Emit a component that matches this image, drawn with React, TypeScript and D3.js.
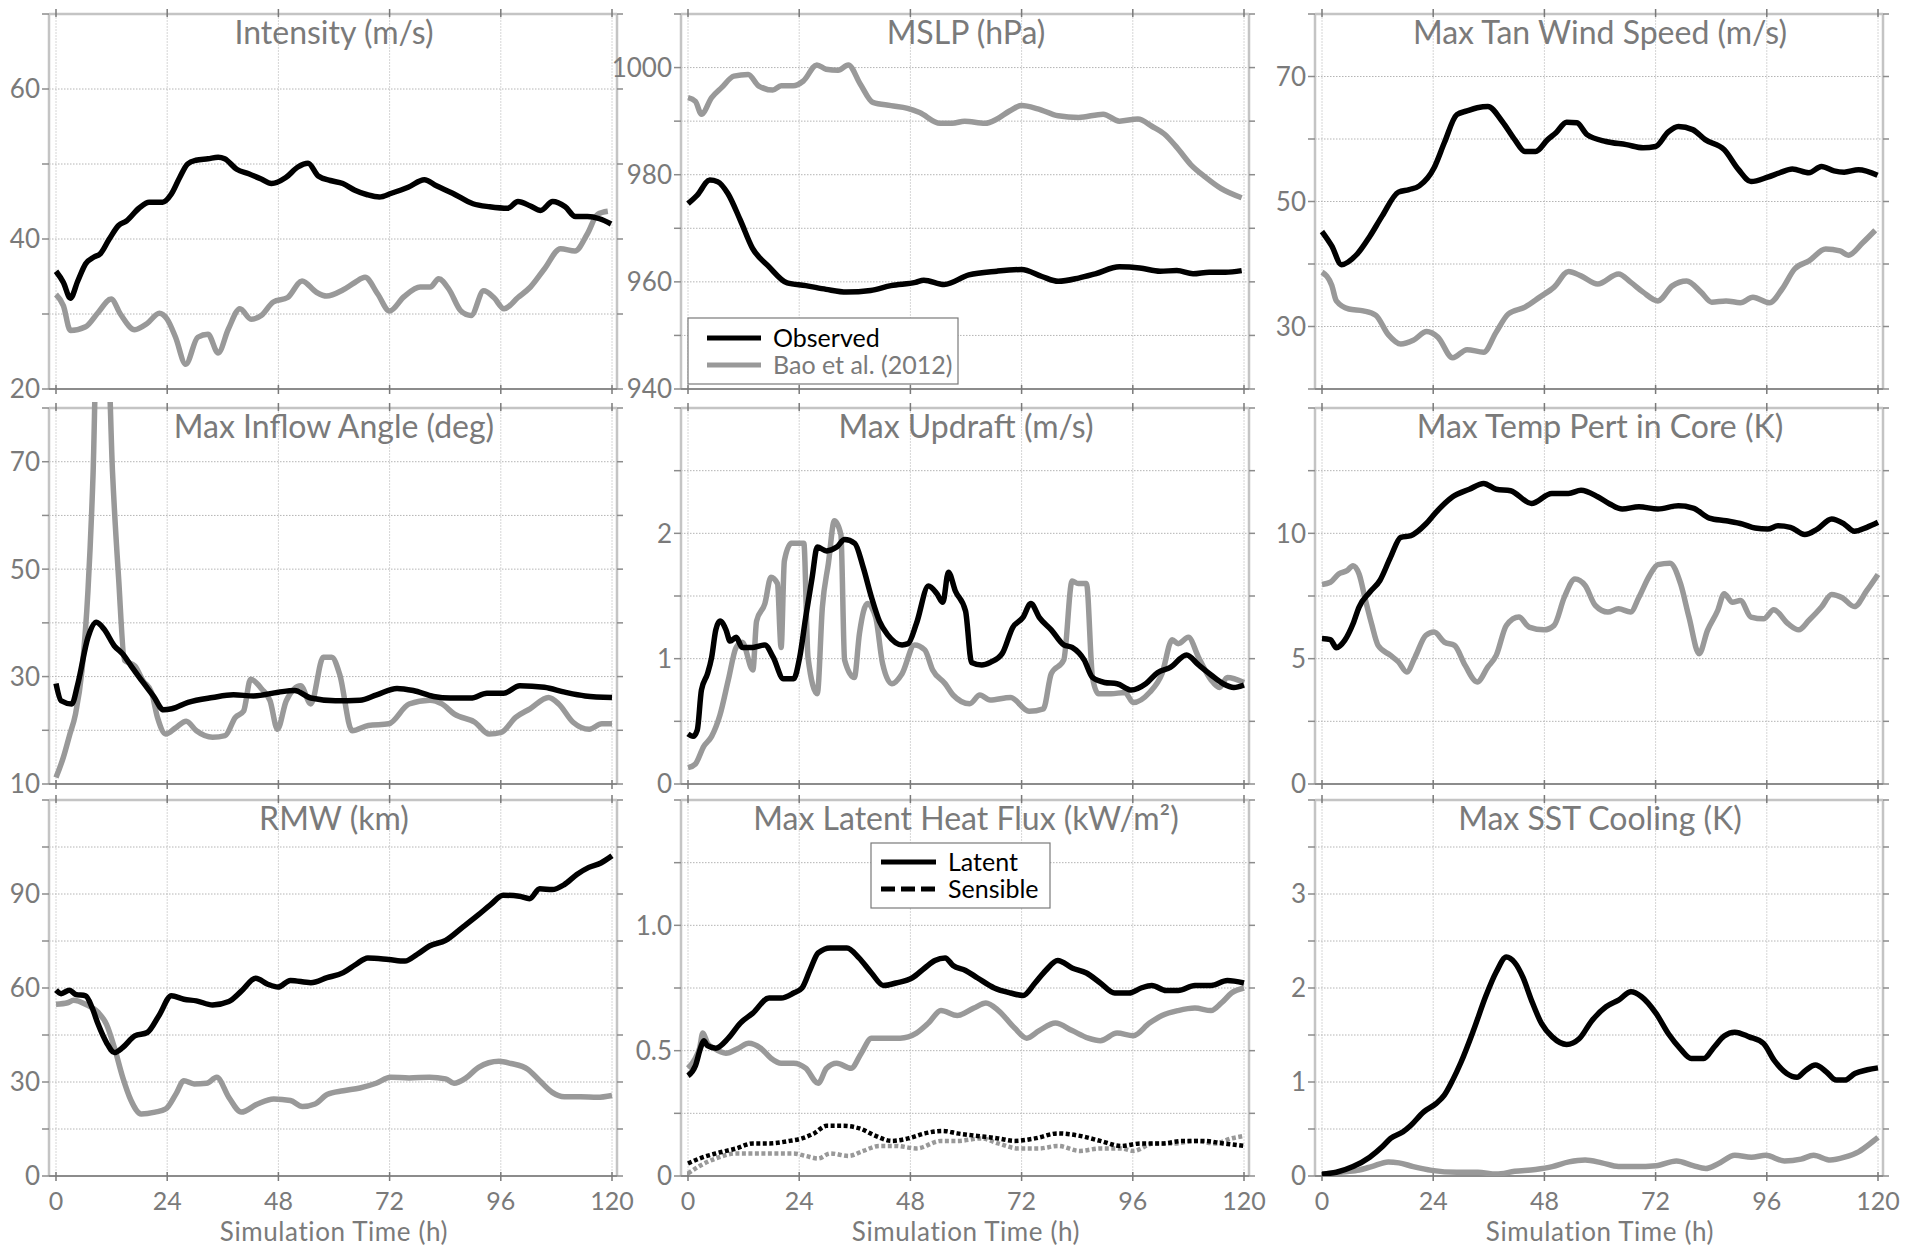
import React from 'react';
import * as d3 from 'd3';

type Pt = [number, number];

// ---------- data (time in h, value) ----------
const intensityObs: Pt[] = [[0,35.7],[1.6,34.2],[3.1,32.1],[4.7,34.4],[6.4,36.7],[8.2,37.6],[9.5,38],[11.5,40],[13.5,41.8],[15.2,42.4],[17.9,44.1],[20.1,44.9],[23,44.9],[24.9,46],[26.7,48.2],[28.4,50],[30.2,50.5],[32.8,50.7],[35,50.9],[36.4,50.7],[39,49.3],[41.6,48.7],[44.3,48],[46.5,47.4],[49.6,48.2],[52.2,49.6],[54.4,50.1],[56.6,48.4],[59.2,47.8],[61.9,47.4],[64.5,46.5],[67.2,45.9],[69.8,45.6],[72.4,46.1],[76,46.9],[79.5,47.9],[82.1,47.1],[85.6,46.1],[90,44.7],[93.6,44.3],[97.5,44.1],[99.7,45],[102.4,44.4],[104.6,43.8],[107.2,45],[109.9,44.3],[112.1,43],[114.7,43],[117.3,42.7],[119.8,42]];
const intensityBao: Pt[] = [[0,32.6],[1.6,31.1],[3.1,27.8],[6.4,28.3],[9.1,30.2],[11.9,32],[13.9,30],[17,27.9],[19.6,28.7],[22.3,30.1],[24,29.3],[25.8,26.9],[28,23.3],[30.6,26.9],[32.8,27.3],[35,24.8],[37.2,28],[39.7,30.7],[42.1,29.3],[44.3,29.8],[46.9,31.6],[50,32.2],[53.1,34.4],[56.2,32.9],[58.4,32.4],[61.9,33.2],[64.5,34.2],[66.7,34.9],[69.4,32.7],[72,30.4],[75.1,32.3],[78.6,33.6],[80.8,33.6],[82.6,34.7],[84.8,33.3],[87.4,30.4],[89.6,29.8],[92.3,33.1],[94.5,32.2],[96.7,30.7],[99.7,32.2],[102.4,33.6],[105.4,36],[108.9,38.7],[112,38.4],[114.7,40.7],[116.9,43.3],[119.1,43.7]];

const mslpObs: Pt[] = [[0,974.6],[2,976.2],[4.7,979],[6.4,978.7],[8.6,976.5],[11.3,971.5],[13.9,966.3],[17.4,962.9],[21.4,959.8],[25.4,959.3],[29.8,958.6],[34.2,958.1],[39.4,958.4],[43.8,959.3],[49.1,959.9],[50.9,960.3],[55.3,959.5],[60.6,961.3],[66.7,962],[72,962.3],[76.4,961],[79.9,960.1],[84.3,960.7],[87.9,961.5],[93.1,962.8],[97.5,962.6],[101.9,962],[105.5,962.1],[109,961.5],[112.5,961.8],[116,961.8],[119.5,962.1]];
const mslpBao: Pt[] = [[0,994.4],[1.6,993.7],[2.9,991.3],[5.1,994.4],[7.3,996.3],[9.9,998.4],[13,998.7],[15.2,996.6],[18.3,995.8],[20.1,996.6],[22.7,996.6],[24.9,997.5],[27.8,1000.5],[29.8,999.7],[32.4,999.5],[34.6,1000.5],[37.2,996.9],[39.9,993.5],[43.8,992.9],[47.4,992.4],[50,991.6],[54.4,989.6],[57,989.6],[59.7,990],[64.1,989.6],[66.7,990.4],[69.4,991.9],[72,992.9],[75.5,992.3],[79.9,991],[84.3,990.7],[89.6,991.3],[93.1,990],[97.1,990.4],[100.2,989],[102.8,987.6],[105.5,985.1],[108.5,981.9],[111.6,979.6],[115.1,977.4],[119.5,975.7]];

const tanObs: Pt[] = [[0,45.2],[2.1,42.9],[4.2,39.9],[7.6,41.6],[10.3,44.4],[13,47.7],[16.5,51.5],[18.8,51.9],[21,52.5],[24.2,55.4],[26.4,59.4],[29.1,63.9],[31.3,64.5],[33.5,65],[35.8,65.2],[38.9,62.8],[41.6,59.9],[43.8,58],[46.1,58],[48.7,59.9],[50.5,61],[52.8,62.7],[55,62.6],[57.2,60.7],[61.3,59.6],[65.7,59.1],[69.3,58.6],[72,58.8],[74.7,61.1],[76.9,62],[80,61.5],[82.7,59.9],[86.8,58.3],[89.9,55.1],[92.6,53.2],[96.2,53.9],[98.8,54.6],[101.5,55.2],[105.1,54.6],[107.8,55.6],[110.5,54.9],[112.7,54.7],[115.8,55.1],[119.9,54.2]];
const tanBao: Pt[] = [[0,38.7],[2.1,36.6],[3.1,34.1],[5.8,32.8],[8.9,32.5],[11.6,31.8],[14.3,28.7],[17,27.2],[19.7,27.8],[22.6,29.2],[25,28.3],[28.2,25],[31.3,26.3],[34.9,25.9],[37.6,29.1],[40.2,32],[43.8,33.1],[47,34.7],[50.1,36.3],[53.2,38.8],[55.9,38.1],[59.5,36.8],[64,38.4],[66.6,37.1],[69.3,35.5],[72.5,34.1],[75.6,36.5],[78.7,37.3],[81.8,35.5],[84.1,33.9],[87.2,34.1],[90.3,33.8],[93,34.7],[96.6,33.8],[99.3,36],[102,39.2],[105.1,40.5],[108.7,42.4],[111.8,42.1],[113.6,41.4],[116.7,43.4],[119.4,45.4]];

const inflowObs: Pt[] = [[0,28.7],[1.1,25.5],[3.4,24.9],[4.7,28.6],[6.9,37.3],[8.7,40.1],[10.4,38.8],[12.6,35.7],[14.4,34.2],[16.2,32],[18.8,28.9],[21,26.4],[23.2,23.8],[25,24],[28.5,25.2],[33.8,26.1],[38.3,26.6],[42.7,26.4],[48,27.1],[51.5,27.4],[55,26],[60.3,25.5],[65.6,25.6],[69.2,26.6],[73.6,27.8],[77.1,27.4],[81.5,26.3],[85.1,26],[89.5,26],[93,26.9],[96.6,26.9],[100.1,28.3],[105.4,28],[109.8,27.1],[114.2,26.4],[120,26.1]];
const inflowBao: Pt[] = [[0,11.2],[1.6,15],[2.9,19],[4.2,23],[5.6,31.1],[6.9,46],[8,67.7],[8.8,92],[11.1,92],[12.2,68],[13.5,48.5],[14.8,33],[17,32],[18.8,29.2],[20.6,27.1],[21.9,22.4],[23.7,19.3],[25.9,20.5],[28.1,21.7],[30.3,19.9],[33.8,18.7],[36.5,19],[38.7,22.4],[40.5,23.6],[42,29.5],[44.4,27.7],[46.2,25.5],[47.8,20.2],[49.7,25.5],[52.8,28.3],[55,24.9],[57.7,33.6],[59.5,33.6],[61.2,30.5],[63.9,19.9],[67.4,20.9],[71.8,21.2],[76.2,24.9],[80.7,25.6],[83.3,24.9],[86,23],[90.4,21.5],[93.5,19.3],[96.1,19.6],[99.2,22.4],[102.3,24],[106.3,26.1],[108.5,24.9],[111.6,21.5],[115.1,20.2],[117.8,21.2],[120,21.2]];

const updraftObs: Pt[] = [[0,0.40],[1.1,0.38],[2,0.43],[2.9,0.75],[4.2,0.88],[5.1,1.01],[6,1.23],[6.9,1.3],[8.2,1.23],[9.1,1.14],[10.4,1.17],[11.7,1.09],[14,1.09],[16.6,1.11],[18.4,1.01],[20.6,0.84],[22.8,0.84],[24.1,1.01],[25.4,1.33],[26.8,1.65],[27.9,1.89],[29.9,1.86],[32.1,1.89],[33.8,1.95],[36,1.92],[37.8,1.73],[39.6,1.49],[41.3,1.3],[43.1,1.19],[46.2,1.11],[47.5,1.12],[49.3,1.28],[51.9,1.58],[53.7,1.52],[55,1.45],[56.2,1.69],[57.7,1.54],[59.9,1.38],[61.2,0.97],[63.4,0.95],[65.2,0.97],[67.8,1.04],[70.1,1.25],[72.3,1.33],[74,1.44],[75.8,1.33],[78.4,1.23],[81.1,1.11],[82.9,1.09],[85.5,0.99],[87.3,0.85],[89.9,0.81],[92.6,0.8],[95.7,0.75],[98.8,0.8],[101.4,0.89],[104.1,0.93],[107.6,1.03],[110.2,0.95],[112.9,0.87],[115.5,0.8],[117.8,0.77],[120,0.79]];
const updraftBao: Pt[] = [[0,0.13],[1.6,0.16],[3.4,0.3],[5.1,0.38],[6.9,0.55],[8.7,0.83],[10.4,1.09],[11.7,1.13],[14,0.91],[14.8,1.3],[16.6,1.44],[17.9,1.65],[19.3,1.6],[20.1,1.09],[20.8,1.78],[22.3,1.92],[25,1.92],[25.9,1.01],[27.9,0.72],[29,1.41],[30.3,1.76],[31.6,2.1],[33,1.99],[33.8,0.99],[35.9,0.85],[37,1.2],[38.7,1.44],[40.5,1.33],[42,0.96],[44,0.8],[46.2,0.88],[48.9,1.11],[51.1,1.07],[52.8,0.91],[55.5,0.8],[57.2,0.71],[60.8,0.64],[63,0.71],[65.2,0.67],[69.6,0.69],[73.6,0.58],[76.7,0.6],[78.4,0.88],[81.1,0.99],[82.9,1.62],[84.2,1.6],[86,1.6],[87.3,0.85],[88.6,0.72],[91.3,0.72],[94.3,0.73],[96.1,0.65],[99.6,0.73],[102.3,0.88],[104.5,1.15],[105.8,1.12],[108,1.17],[110.2,1.01],[112.9,0.83],[114.7,0.77],[116.4,0.85],[120,0.81]];

const tempObs: Pt[] = [[0,5.8],[1.8,5.76],[3.1,5.44],[4.9,5.73],[6.7,6.39],[8,7.06],[10.3,7.65],[12.5,8.12],[14.8,9.05],[17,9.84],[19.2,9.91],[22.4,10.37],[24.6,10.84],[28.2,11.46],[31.8,11.76],[34.9,11.99],[37.6,11.76],[40.7,11.7],[45.2,11.19],[49.6,11.59],[53.2,11.59],[55.9,11.72],[59.5,11.46],[62.1,11.17],[64.8,10.97],[68.4,11.06],[72.5,10.97],[76.9,11.1],[80.1,11.01],[83.6,10.61],[87.2,10.5],[90.8,10.37],[93.5,10.21],[96.2,10.17],[98.4,10.3],[101.1,10.24],[104.2,9.95],[106.9,10.17],[110,10.57],[112.7,10.37],[114.9,10.08],[117.6,10.24],[120,10.44]];
const tempBao: Pt[] = [[0,7.96],[1.8,8.05],[3.6,8.38],[5.4,8.51],[6.7,8.71],[8,8.38],[9.4,7.32],[10.7,6.39],[12.1,5.53],[14.8,5.13],[16.5,4.87],[18.3,4.47],[20.1,5.07],[22.4,5.93],[24.2,6.06],[26.4,5.66],[28.6,5.53],[30.9,4.73],[33.5,4.07],[35.8,4.67],[37.6,5.13],[39.8,6.33],[42.5,6.66],[44.7,6.26],[47.9,6.15],[50.1,6.33],[52.3,7.45],[54.6,8.18],[56.8,7.92],[59,7.12],[61.7,6.86],[64,6.99],[66.6,6.86],[68.4,7.45],[70.7,8.32],[72.5,8.75],[75.1,8.81],[77.4,7.98],[79.2,6.66],[81.4,5.2],[83.2,6.13],[85.4,6.92],[86.8,7.59],[88.6,7.25],[90.3,7.32],[92.6,6.66],[95.3,6.59],[97.5,6.95],[100.6,6.39],[102.9,6.15],[105.1,6.53],[107.8,7.06],[110,7.56],[112.3,7.43],[114.9,7.08],[117.6,7.72],[120,8.36]];

const rmwObs: Pt[] = [[0,59.3],[1.1,58.2],[2.9,59.3],[4.2,58],[6.4,57.5],[7.8,53.7],[9.1,48.4],[10.9,42.6],[12.6,39.4],[14.4,41],[17,44.7],[19.7,45.8],[22.3,51.4],[24.9,57.5],[27.6,56.4],[30.3,55.9],[33.8,54.6],[37.3,55.7],[40,59],[43.1,63.1],[45.7,61.2],[47.9,60.3],[50.6,62.4],[55,61.7],[58.5,63.3],[62,64.9],[64.7,67.5],[67.3,69.6],[71.8,69.1],[75.3,68.6],[77.9,70.7],[80.6,73.4],[84.1,75.2],[87.6,79.2],[91.2,83.4],[93.8,86.6],[96.5,89.6],[100,89.3],[102.2,88.5],[104.4,91.7],[107.1,91.4],[109.7,93],[112.4,96.2],[115,98.5],[117.6,99.9],[120,102.2]];
const rmwBao: Pt[] = [[0,54.8],[2.5,55.3],[3.8,56.1],[6.4,54.8],[9.1,52.2],[10.9,48.4],[12.6,41],[14.4,31.5],[16.2,24.1],[18.4,19.8],[21.4,20.4],[23.7,21.4],[25.9,26.2],[27.6,30.4],[29.8,29.4],[32.5,29.6],[34.7,31.5],[37.3,25.1],[40,20.4],[43.5,23],[47,24.6],[50.6,24.1],[53.2,22.2],[55.9,23],[58.5,26],[62,27.2],[65.6,28.1],[69.1,29.6],[72.2,31.5],[76.2,31.3],[80.6,31.5],[84.1,31],[85.9,29.6],[88.5,31.3],[91.2,34.7],[95.6,36.6],[98.2,35.9],[101.8,34.1],[104.4,30.4],[107.1,26.7],[109.7,25.3],[113.2,25.3],[116.8,25.1],[120,25.7]];

const latentObs: Pt[] = [[0,0.4],[1.6,0.44],[2.7,0.51],[3.4,0.54],[4.2,0.52],[6,0.51],[8.7,0.55],[11.3,0.61],[14,0.65],[17.5,0.71],[20.1,0.71],[22.8,0.73],[24.6,0.75],[26.3,0.82],[28.1,0.89],[30.7,0.91],[34.3,0.91],[36.9,0.87],[39.6,0.81],[42.2,0.76],[44.9,0.77],[48.4,0.79],[51.1,0.83],[53.3,0.86],[55.5,0.87],[57.2,0.84],[59.9,0.82],[62.5,0.79],[66.1,0.75],[69.6,0.73],[72.3,0.72],[74.9,0.77],[77.2,0.82],[79.8,0.86],[82.9,0.83],[86,0.81],[89,0.77],[92.1,0.73],[95.2,0.73],[97.8,0.75],[100.1,0.76],[103.2,0.74],[105.8,0.74],[109.4,0.76],[112.9,0.76],[116.4,0.78],[120,0.77]];
const latentBao: Pt[] = [[0,0.43],[1.6,0.47],[2.5,0.51],[3.2,0.57],[4.2,0.53],[5.6,0.51],[8.2,0.49],[10.9,0.51],[13.1,0.53],[15.7,0.51],[17.9,0.47],[20.1,0.45],[22.8,0.45],[25.4,0.43],[28.1,0.37],[29.9,0.43],[32.1,0.45],[35.2,0.43],[37.4,0.49],[39.6,0.55],[43.1,0.55],[45.8,0.55],[49.3,0.57],[51.9,0.61],[54.6,0.66],[58.1,0.64],[61.7,0.67],[64.3,0.69],[67,0.66],[70.5,0.59],[73.1,0.55],[75.8,0.58],[79.3,0.61],[82.9,0.58],[86.4,0.55],[89,0.54],[92.6,0.57],[96.1,0.56],[99.6,0.61],[102.3,0.64],[105.8,0.66],[109.4,0.67],[112.9,0.66],[115.1,0.69],[117.3,0.73],[120,0.75]];
const sensibleObs: Pt[] = [[0,0.05],[2.5,0.07],[6,0.09],[10.4,0.11],[14,0.13],[17.5,0.13],[21.9,0.14],[24.6,0.15],[27.2,0.17],[29.9,0.2],[33.4,0.2],[37,0.19],[40.5,0.16],[44,0.14],[47.5,0.15],[51.1,0.17],[55,0.18],[58.1,0.17],[62.5,0.16],[66.9,0.15],[70.5,0.14],[74.9,0.15],[79.8,0.17],[84.6,0.16],[89,0.14],[93.5,0.12],[97.8,0.13],[102.3,0.13],[106.7,0.14],[111.1,0.14],[115.5,0.13],[120,0.12]];
const sensibleBao: Pt[] = [[0,0.01],[2.5,0.04],[6,0.07],[10.4,0.09],[14.8,0.09],[19.2,0.09],[22.8,0.09],[25.4,0.08],[28.1,0.07],[30.7,0.09],[34.7,0.08],[37.8,0.1],[41.3,0.12],[44.9,0.12],[49.3,0.11],[54.6,0.14],[58.1,0.14],[63.4,0.15],[66.9,0.13],[71.3,0.11],[75.8,0.11],[79.8,0.12],[84.6,0.1],[89,0.11],[93.5,0.11],[96.1,0.1],[100.5,0.13],[105,0.13],[109.4,0.14],[113.8,0.13],[117.3,0.15],[120,0.16]];

const sstObs: Pt[] = [[0,0.02],[3.1,0.04],[6.7,0.1],[10.3,0.2],[13,0.31],[14.8,0.4],[17.5,0.47],[19.2,0.54],[21.9,0.68],[24.6,0.77],[26.4,0.86],[28.2,1.02],[30,1.21],[32.7,1.55],[35.4,1.92],[37.6,2.17],[39.8,2.33],[41.6,2.27],[43.4,2.11],[45.2,1.87],[47.4,1.62],[49.7,1.48],[52.8,1.4],[55.5,1.46],[58.2,1.65],[61.3,1.8],[64,1.87],[66.7,1.96],[68.9,1.91],[72.1,1.73],[74.8,1.51],[77.4,1.35],[79.7,1.25],[82.4,1.25],[84.6,1.37],[86.8,1.49],[89.1,1.53],[92.2,1.48],[95.3,1.41],[97.6,1.23],[100.3,1.09],[102.5,1.05],[104.3,1.12],[106.5,1.18],[108.8,1.11],[111,1.02],[112.8,1.02],[115,1.09],[117.7,1.13],[120,1.15]];
const sstBao: Pt[] = [[0,0.02],[4,0.04],[7.6,0.06],[10.7,0.1],[14.3,0.15],[16.6,0.14],[19.7,0.1],[23.7,0.06],[29.1,0.04],[33.6,0.04],[37.6,0.02],[41.6,0.05],[46.1,0.07],[49.7,0.1],[53.3,0.15],[56.8,0.17],[60.4,0.14],[64,0.1],[67.6,0.1],[72.1,0.11],[76.5,0.16],[80.1,0.11],[82.8,0.08],[85.5,0.13],[89.1,0.22],[92.7,0.2],[95.8,0.22],[99.8,0.16],[103.4,0.18],[106.1,0.22],[109.7,0.17],[112.8,0.2],[115.9,0.26],[118.2,0.34],[120,0.41]];

const xTicks = [0, 24, 48, 72, 96, 120];
const titles = ['Intensity (m/s)', 'MSLP (hPa)', 'Max Tan Wind Speed (m/s)', 'Max Inflow Angle (deg)', 'Max Updraft (m/s)', 'Max Temp Pert in Core (K)', 'RMW (km)', 'Max Latent Heat Flux (kW/m²)', 'Max SST Cooling (K)'];
const domains: [number, number][] = [[20, 70], [940, 1010], [20, 80], [10, 80], [0, 3], [0, 15], [0, 120], [0, 1.5], [0, 4]];
const gridVals: number[][] = [
  [20, 30, 40, 50, 60, 70],
  [940, 950, 960, 970, 980, 990, 1000, 1010],
  [20, 30, 40, 50, 60, 70, 80],
  [10, 20, 30, 40, 50, 60, 70, 80],
  [0, 0.5, 1, 1.5, 2, 2.5, 3],
  [0, 2.5, 5, 7.5, 10, 12.5, 15],
  [0, 15, 30, 45, 60, 75, 90, 105, 120],
  [0, 0.25, 0.5, 0.75, 1, 1.25, 1.5],
  [0, 0.5, 1, 1.5, 2, 2.5, 3, 3.5, 4],
];
const labelVals: number[][] = [
  [20, 40, 60], [940, 960, 980, 1000], [30, 50, 70], [10, 30, 50, 70],
  [0, 1, 2], [0, 5, 10], [0, 30, 60, 90], [0, 0.5, 1.0], [0, 1, 2, 3],
];
const labelText: string[][] = [
  ['20', '40', '60'], ['940', '960', '980', '1000'], ['30', '50', '70'], ['10', '30', '50', '70'],
  ['0', '1', '2'], ['0', '5', '10'], ['0', '30', '60', '90'], ['0', '0.5', '1.0'], ['0', '1', '2', '3'],
];
const seriesList: { data: Pt[]; gray: boolean; dash?: boolean }[][] = [
  [{ data: intensityBao, gray: true }, { data: intensityObs, gray: false }],
  [{ data: mslpBao, gray: true }, { data: mslpObs, gray: false }],
  [{ data: tanBao, gray: true }, { data: tanObs, gray: false }],
  [{ data: inflowBao, gray: true }, { data: inflowObs, gray: false }],
  [{ data: updraftBao, gray: true }, { data: updraftObs, gray: false }],
  [{ data: tempBao, gray: true }, { data: tempObs, gray: false }],
  [{ data: rmwBao, gray: true }, { data: rmwObs, gray: false }],
  [{ data: latentBao, gray: true }, { data: latentObs, gray: false }, { data: sensibleBao, gray: true, dash: true }, { data: sensibleObs, gray: false, dash: true }],
  [{ data: sstBao, gray: true }, { data: sstObs, gray: false }],
];

// ---------- layout ----------
const colX0 = [56, 688, 1322];
const plotW = 556;
const rowTop = [14, 408, 800];
const rowBottom = [389, 784, 1176];
const FONT = "Lato, 'Open Sans', sans-serif";
const TXT = '#7a7a7a';
const GRAYLINE = '#999999';

function Panel({ idx }: { idx: number }) {
  const col = idx % 3;
  const row = Math.floor(idx / 3);
  const x0 = colX0[col];
  const top = rowTop[row];
  const bottom = rowBottom[row];
  const fl = x0 - 7;
  const fr = x0 + plotW + 5;
  const x = d3.scaleLinear().domain([0, 120]).range([x0, x0 + plotW]);
  const y = d3.scaleLinear().domain(domains[idx]).range([bottom, top]);
  const line = d3.line<Pt>().x(d => x(d[0])).y(d => y(d[1])).curve(d3.curveMonotoneX);
  const clipId = `clip${idx}`;
  return (
    <g>
      <defs>
        <clipPath id={clipId}>
          <rect x={fl} y={top - 6} width={fr - fl} height={bottom - top + 6} />
        </clipPath>
      </defs>
      <rect x={fl} y={top} width={fr - fl} height={bottom - top} fill="#fff" />
      {xTicks.map(t => (
        <line key={'vx' + t} x1={x(t)} x2={x(t)} y1={top} y2={bottom} stroke="#d6d6d6" strokeWidth={1} strokeDasharray="2,1" />
      ))}
      {gridVals[idx].map(v => (
        <line key={'hy' + v} x1={fl} x2={fr} y1={y(v)} y2={y(v)} stroke="#b4b4b4" strokeWidth={1} strokeDasharray="1.5,1.5" />
      ))}
      {/* frame */}
      <line x1={fl} x2={fr} y1={top} y2={top} stroke="#c4c4c4" strokeWidth={2.5} />
      <line x1={fr} x2={fr} y1={top} y2={bottom} stroke="#c4c4c4" strokeWidth={2.5} />
      <line x1={fl} x2={fl} y1={top} y2={bottom} stroke="#c4c4c4" strokeWidth={2.5} />
      <line x1={fl} x2={fr} y1={bottom} y2={bottom} stroke="#8c8c8c" strokeWidth={2} />
      {/* ticks */}
      {xTicks.map(t => (
        <g key={'tk' + t}>
          <line x1={x(t)} x2={x(t)} y1={bottom - 4} y2={bottom + 5} stroke="#7a7a7a" strokeWidth={1.5} />
          <line x1={x(t)} x2={x(t)} y1={top - 5} y2={top + 3} stroke="#7a7a7a" strokeWidth={1.5} />
        </g>
      ))}
      {gridVals[idx].map(v => (
        <g key={'ty' + v}>
          <line x1={fl - 7} x2={fl} y1={y(v)} y2={y(v)} stroke="#8c8c8c" strokeWidth={1.5} />
          <line x1={fr} x2={fr + 6} y1={y(v)} y2={y(v)} stroke="#8c8c8c" strokeWidth={1.5} />
        </g>
      ))}
      {labelVals[idx].map((v, i) => (
        <text key={'ly' + v} x={fl - 9} y={y(v)} dy="0.36em" textAnchor="end" fontFamily={FONT} fontSize={26} fill={TXT}>
          {labelText[idx][i]}
        </text>
      ))}
      {row === 2 && xTicks.map(t => (
        <text key={'lx' + t} x={x(t)} y={bottom + 34} textAnchor="middle" fontFamily={FONT} fontSize={25} fill={TXT}>
          {t}
        </text>
      ))}
      {row === 2 && (
        <text x={x(60)} y={bottom + 65} textAnchor="middle" fontFamily={FONT} fontSize={26} letterSpacing={0.6} fill={TXT}>
          Simulation Time (h)
        </text>
      )}
      <g clipPath={`url(#${clipId})`}>
        {seriesList[idx].map((s, i) => (
          <path key={'s' + i} d={line(s.data) || ''} fill="none" stroke={s.gray ? GRAYLINE : '#000'}
            strokeWidth={s.dash ? 4.5 : 5.5} strokeDasharray={s.dash ? '4,2.5' : undefined} strokeLinejoin="round" />
        ))}
      </g>
      <text x={x(60)} y={top + 30} textAnchor="middle" fontFamily={FONT} fontSize={32} fill={TXT}>
        {titles[idx]}
      </text>
    </g>
  );
}

export default function App() {
  return (
    <svg width={1919} height={1248} style={{ position: 'absolute', left: 0, top: 0, background: '#fff' }}>
      <rect x={0} y={0} width={1919} height={1248} fill="#fff" />
      {[0, 1, 2, 3, 4, 5, 6, 7, 8].map(i => <Panel key={i} idx={i} />)}
      {/* MSLP legend */}
      <g>
        <rect x={688} y={318} width={270} height={66} fill="#fff" stroke="#7a7a7a" strokeWidth={1.2} />
        <line x1={707} x2={761} y1={338} y2={338} stroke="#000" strokeWidth={5} />
        <text x={773} y={347} fontFamily={FONT} fontSize={25} fill="#000">Observed</text>
        <line x1={707} x2={761} y1={365} y2={365} stroke={GRAYLINE} strokeWidth={5} />
        <text x={773} y={374} fontFamily={FONT} fontSize={25} fill={TXT}>Bao et al. (2012)</text>
      </g>
      {/* flux legend */}
      <g>
        <rect x={871} y={843} width={179} height={65} fill="#fff" stroke="#7a7a7a" strokeWidth={1.2} />
        <line x1={881} x2={936} y1={862} y2={862} stroke="#000" strokeWidth={5} />
        <text x={948} y={871} fontFamily={FONT} fontSize={25} fill="#000">Latent</text>
        <line x1={881} x2={936} y1={889} y2={889} stroke="#000" strokeWidth={5} strokeDasharray="14,6" />
        <text x={948} y={898} fontFamily={FONT} fontSize={25} fill="#000">Sensible</text>
      </g>
    </svg>
  );
}
